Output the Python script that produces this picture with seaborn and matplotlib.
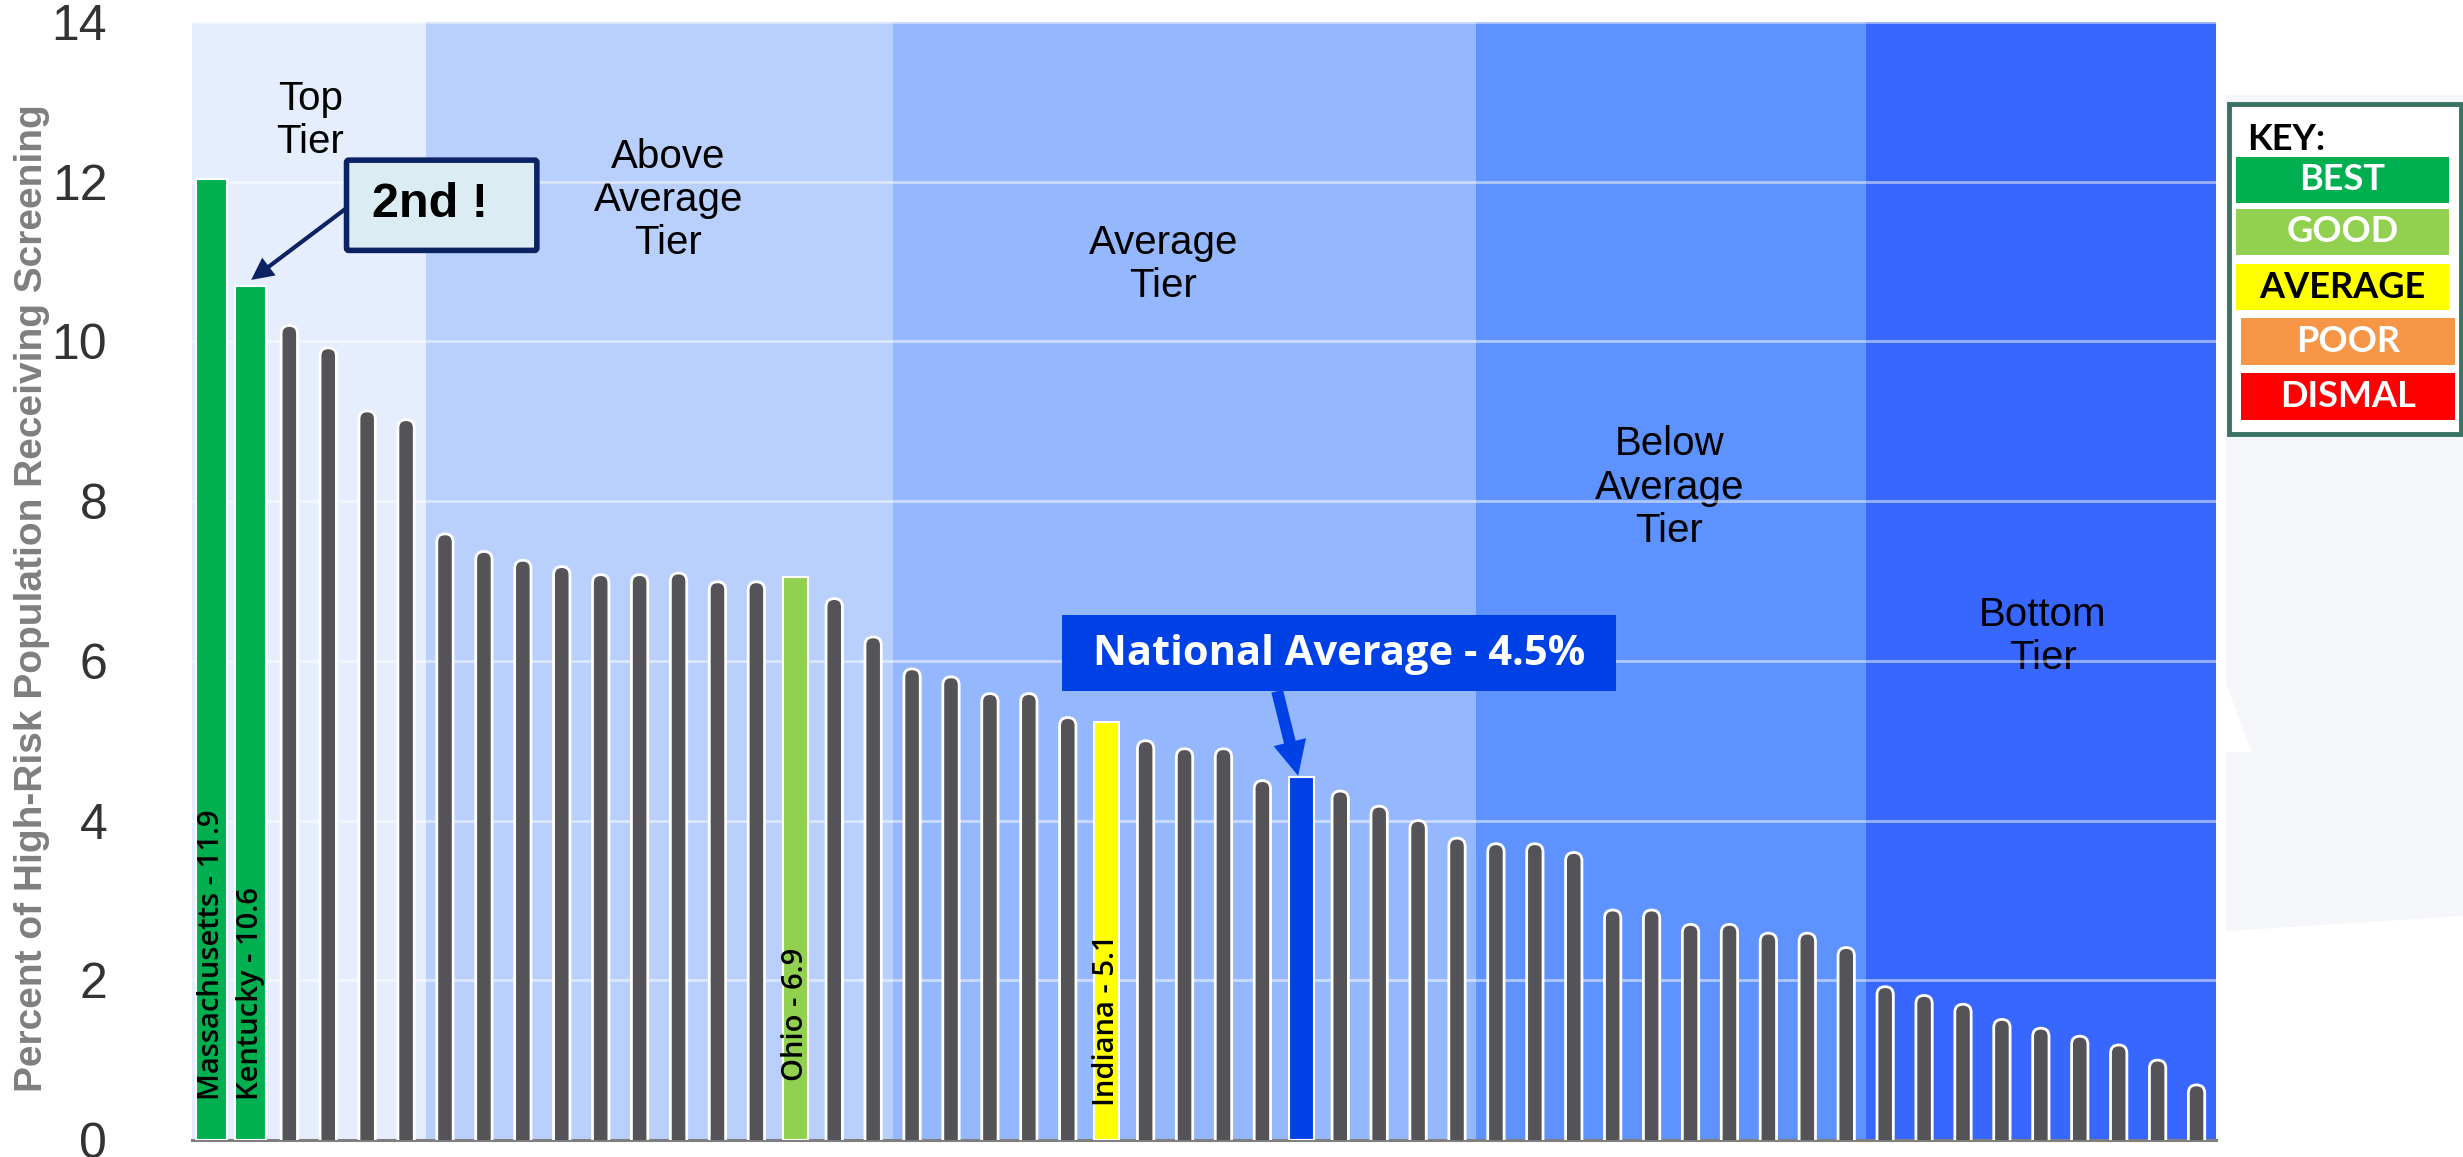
import numpy as np
import pandas as pd
import matplotlib
matplotlib.use("Agg")
import matplotlib.pyplot as plt
from matplotlib.patches import FancyBboxPatch, Rectangle, Polygon
import seaborn as sns

# ranked percent of high-risk population receiving screening (states + national average)
pct = [12.03, 10.70, 10.20, 9.92, 9.13, 9.02, 7.59, 7.37, 7.26, 7.18,
       7.08, 7.08, 7.10, 6.99, 6.99, 7.05, 6.78, 6.30, 5.90, 5.80,
       5.59, 5.59, 5.29, 5.23, 5.00, 4.90, 4.90, 4.50, 4.54, 4.37,
       4.18, 4.00, 3.78, 3.71, 3.71, 3.60, 2.88, 2.88, 2.70, 2.70,
       2.59, 2.59, 2.41, 1.92, 1.81, 1.70, 1.51, 1.40, 1.30, 1.19,
       1.00, 0.69]
highlight = {0: "best", 1: "best", 15: "good", 23: "average", 28: "national"}
bar_labels = {0: "Massachusetts - 11.9", 1: "Kentucky - 10.6",
              15: "Ohio - 6.9", 23: "Indiana - 5.1"}
tier_names = ["Top\nTier", "Above\nAverage\nTier", "Average\nTier",
              "Below\nAverage\nTier", "Bottom\nTier"]
tier_sizes = [6, 12, 15, 10, 9]
key_labels = ["BEST", "GOOD", "AVERAGE", "POOR", "DISMAL"]
natl_text = "National Average - 4.5%"
second_text = "2nd !"
ylabel = "Percent of High-Risk Population Receiving Screening"

palette = {"state": "#545458", "best": "#00B050", "good": "#92D050",
           "average": "#FFFF00", "national": "#0041E6"}
tier_colors = ["#E6EEFD", "#B9D0FD", "#95B7FD", "#5E92FE", "#3767FF"]
key_colors = ["#00B050", "#92D050", "#FFFF00", "#F79646", "#FF0000"]
key_text_colors = ["white", "white", "black", "white", "white"]

W, H = 2463, 1157


def fx(x):
    return x / W


def fy(y):
    return 1 - y / H


def main():
    sns.set_style("white")
    plt.rcParams["font.family"] = ["Liberation Sans", "DejaVu Sans"]

    fig = plt.figure(figsize=(W / 100, H / 100), dpi=100)

    # faint slide background on the right
    fig.patches.append(Polygon([(fx(2226), fy(95)), (fx(2463), fy(95)), (fx(2463), fy(916)),
                                (fx(2226), fy(931))], closed=True, transform=fig.transFigure,
                               fc="#F4F6FA", ec="none", zorder=0))
    fig.patches.append(Polygon([(fx(2226), fy(684)), (fx(2252), fy(752)), (fx(2226), fy(752))],
                               closed=True, transform=fig.transFigure, fc="white", ec="none", zorder=0))

    ax = fig.add_axes([fx(192), fy(1140), fx(2216) - fx(192), fy(22) - fy(1140)])

    df = pd.DataFrame({"rank": np.arange(len(pct)), "pct": pct})
    df["group"] = [highlight.get(i, "state") for i in df["rank"]]

    sns.barplot(data=df, x="rank", y="pct", hue="group", palette=palette, dodge=False,
                width=0.8, errorbar=None, legend=False, ax=ax, zorder=3, linewidth=0,
                saturation=1)

    ax.set_xlim(-0.5, len(pct) - 0.5)
    ax.set_ylim(0, 14)

    # rounded gray bars, wider highlight bars
    px_x = ax.transData.transform((1, 0))[0] - ax.transData.transform((0, 0))[0]
    px_y = ax.transData.transform((0, 1))[1] - ax.transData.transform((0, 0))[1]
    aspect = px_x / px_y
    for p in list(ax.patches):
        i = int(round(p.get_x() + p.get_width() / 2))
        g = df.group[i]
        h = p.get_height()
        if g == "state":
            w = 0.42
            fc = p.get_facecolor()
            p.remove()
            ax.add_patch(FancyBboxPatch((i - w / 2, -0.5), w, h + 0.5,
                                        boxstyle="round,pad=0,rounding_size=%f" % (w / 2),
                                        mutation_aspect=aspect, fc=fc, ec="white",
                                        lw=2.0, zorder=3))
        else:
            w = 0.8 if g == "best" else 0.64
            p.set_x(i - w / 2)
            p.set_width(w)
            p.set_edgecolor("white")
            p.set_linewidth(1.5)

    # tier backgrounds
    edges = np.concatenate([[-0.5], np.cumsum(tier_sizes) - 0.5])
    for lo, hi, c in zip(edges[:-1], edges[1:], tier_colors):
        ax.axvspan(lo, hi, color=c, zorder=0.1, lw=0)

    tier_pos = [(2.54, 12.77), (11.74, 11.77), (24.45, 10.96), (37.45, 8.17), (47.05, 6.31)]
    for name, (x, y) in zip(tier_names, tier_pos):
        ax.text(x, y, name, ha="center", va="center", fontsize=29, linespacing=1.17,
                color="black", zorder=0.3)

    label_base = {0: 0.5, 1: 0.5, 15: 0.74, 23: 0.42}
    for i, txt in bar_labels.items():
        ax.text(i, label_base[i], txt, rotation=90, ha="center", va="bottom",
                fontsize=21, family="Open Sans", fontweight="semibold", color="black", zorder=4)

    # axes styling
    ax.set_yticks(np.arange(0, 15, 2))
    ax.set_xticks([])
    ax.set_xlabel("")
    ax.set_ylabel("")
    ax.grid(axis="y", color="white", alpha=0.5, lw=2)
    ax.set_axisbelow(True)
    sns.despine(ax=ax, left=True)
    ax.spines["bottom"].set_color("#7F7F7F")
    ax.spines["bottom"].set_linewidth(2.2)
    ax.tick_params(axis="y", length=0, pad=61, labelsize=36, labelcolor="#333333")
    fig.text(fx(32), fy(598), ylabel, rotation=90, ha="center", va="center",
             fontsize=28, fontweight="bold", color="#7F7F7F")

    # "2nd !" callout
    ax.add_patch(FancyBboxPatch((3.47, 11.14), 8.36 - 3.47, 12.27 - 11.14,
                                boxstyle="round,pad=0,rounding_size=0.06", mutation_aspect=aspect,
                                fc="#DBEDF3", ec="#0B2362", lw=4, zorder=6))
    ax.text(5.62, 11.72, second_text, ha="center", va="center", fontsize=35,
            fontweight="bold", color="black", zorder=7)
    ax.annotate("", xy=(1.02, 10.77), xytext=(3.47, 11.67),
                arrowprops=dict(arrowstyle="simple,head_length=0.8,head_width=0.8,tail_width=0.15",
                                fc="#0B2362", ec="none", lw=0, shrinkA=0, shrinkB=0,
                                mutation_scale=20), zorder=6)

    # national average callout
    ax.add_patch(Rectangle((21.86, 5.62), 36.08 - 21.86, 6.57 - 5.62, fc="#0041E6",
                           ec="none", zorder=6))
    ax.text((21.86 + 36.08) / 2, 6.08, natl_text, ha="center", va="center", fontsize=30,
            family="Open Sans", fontweight="bold", color="white", zorder=7)
    ax.annotate("", xy=(27.92, 4.56), xytext=(27.38, 5.62),
                arrowprops=dict(arrowstyle="simple,head_length=1.25,head_width=1.2,tail_width=0.43",
                                fc="#0041E6", ec="none", lw=0, shrinkA=0, shrinkB=0,
                                mutation_scale=20), zorder=6)

    # key box
    fig.patches.append(Rectangle((fx(2229), fy(434)), fx(2461) - fx(2229), fy(104) - fy(434),
                                 transform=fig.transFigure, fc="white", ec="#3A7264",
                                 lw=3.5, zorder=2))
    fig.text(fx(2247), fy(140), "KEY:", ha="left", va="center", fontsize=26,
             family="Lato", fontweight="bold", color="black", zorder=3)
    key_boxes = [(2236, 2449, 157, 203), (2236, 2449, 209, 255), (2236, 2449, 264, 310),
                 (2241, 2455, 318, 365), (2241, 2455, 373, 420)]
    for lab, c, tc, (x0, x1, y0, y1) in zip(key_labels, key_colors, key_text_colors, key_boxes):
        fig.patches.append(Rectangle((fx(x0), fy(y1)), fx(x1) - fx(x0), fy(y0) - fy(y1),
                                     transform=fig.transFigure, fc=c, ec="none", zorder=3))
        fig.text((fx(x0) + fx(x1)) / 2, (fy(y0) + fy(y1)) / 2, lab, ha="center", va="center",
                 fontsize=26, family="Lato", fontweight="bold", color=tc, zorder=4)

    fig.savefig("out.png", dpi=100)


if __name__ == "__main__":
    main()
